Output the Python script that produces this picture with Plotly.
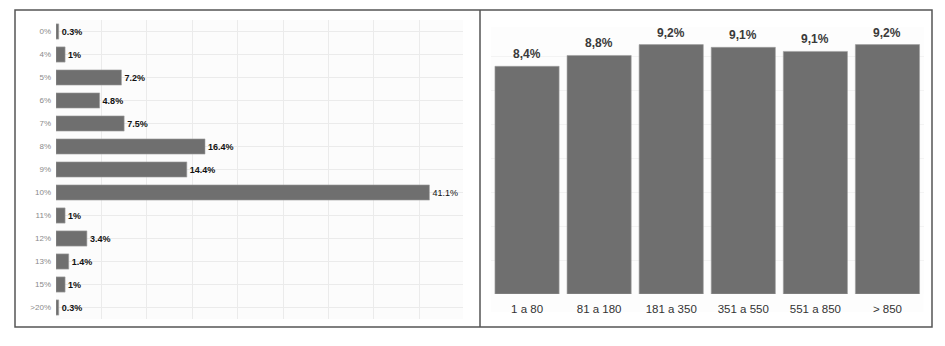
import plotly.graph_objects as go

# Left panel data
rates = ["0%", "4%", "5%", "6%", "7%", "8%", "9%", "10%", "11%", "12%", "13%", "15%", ">20%"]
rate_share = [0.3, 1, 7.2, 4.8, 7.5, 16.4, 14.4, 41.1, 1, 3.4, 1.4, 1, 0.3]

# Right panel data
size_groups = ["1 a 80", "81 a 180", "181 a 350", "351 a 550", "551 a 850", "> 850"]
group_values = [8.4, 8.8, 9.2, 9.1, 8.95, 9.2]
group_labels = ["8,4%", "8,8%", "9,2%", "9,1%", "9,1%", "9,2%"]

W, H = 945, 346
def px(x):
    return x / W
def py(y):
    return 1 - y / H

FONT = "Liberation Sans, Arial, sans-serif"
BAR = "#6f6f6f"

left_text = [f"{v:g}%" if v == max(rate_share) else f"<b>{v:g}%</b>" for v in rate_share]

fig = go.Figure()
fig.add_trace(go.Bar(
    x=rate_share, y=rates, orientation="h",
    marker=dict(color=BAR, line=dict(color="#a0a0a0", width=0.6)),
    text=left_text, textposition="outside", cliponaxis=False,
    textfont=dict(size=9, color="#111111", family=FONT),
    xaxis="x", yaxis="y", showlegend=False,
))
fig.add_trace(go.Bar(
    x=size_groups, y=group_values, width=0.89,
    marker=dict(color=BAR, line=dict(color="#a0a0a0", width=0.6)),
    xaxis="x2", yaxis="y2", showlegend=False,
))

annotations = [
    dict(x=g, y=v, xref="x2", yref="y2", text=f"<b>{lab}</b>", showarrow=False,
         yanchor="bottom", yshift=3, font=dict(size=12, color="#3a3a3a", family=FONT))
    for g, v, lab in zip(size_groups, group_values, group_labels)
]

fig.update_layout(
    width=W, height=H,
    margin=dict(l=0, r=0, t=0, b=0),
    paper_bgcolor="white",
    plot_bgcolor="#fcfcfc",
    font=dict(family=FONT),
    bargap=0.34,
    annotations=annotations,
    xaxis=dict(domain=[px(56), px(463)], range=[0, 44.8], dtick=5, tick0=0,
               showticklabels=False, showgrid=True, gridcolor="#ebebeb", gridwidth=1,
               zeroline=False, showline=False, fixedrange=True),
    yaxis=dict(domain=[py(319), py(20)], type="category", autorange="reversed",
               showgrid=True, gridcolor="#ebebeb", gridwidth=1,
               tickfont=dict(size=8, color="#8a8a8a", family=FONT),
               ticks="", ticklabelstandoff=4, showline=False, zeroline=False),
    xaxis2=dict(domain=[px(491), px(923.5)], type="category", anchor="y2",
                showgrid=False, showline=False, ticks="", ticklabelstandoff=6,
                tickfont=dict(size=11.5, color="#333333", family=FONT)),
    yaxis2=dict(domain=[py(294), py(27)], range=[0, 9.85], anchor="x2",
                dtick=1.25, tick0=0, showgrid=True, gridcolor="#f3f3f3",
                showticklabels=False, zeroline=False, showline=False),
    shapes=[
        dict(type="rect", xref="paper", yref="paper",
             x0=px(491), x1=px(923.5), y0=py(312), y1=py(27),
             fillcolor="#fdfdfd", line=dict(width=0), layer="below"),
        dict(type="rect", xref="paper", yref="paper",
             x0=px(15), x1=px(932), y0=py(327), y1=py(10),
             line=dict(color="#555555", width=1.5)),
        dict(type="line", xref="paper", yref="paper",
             x0=px(480), x1=px(480), y0=py(327), y1=py(10),
             line=dict(color="#555555", width=1.5)),
    ],
)

fig.write_html("out.html")
